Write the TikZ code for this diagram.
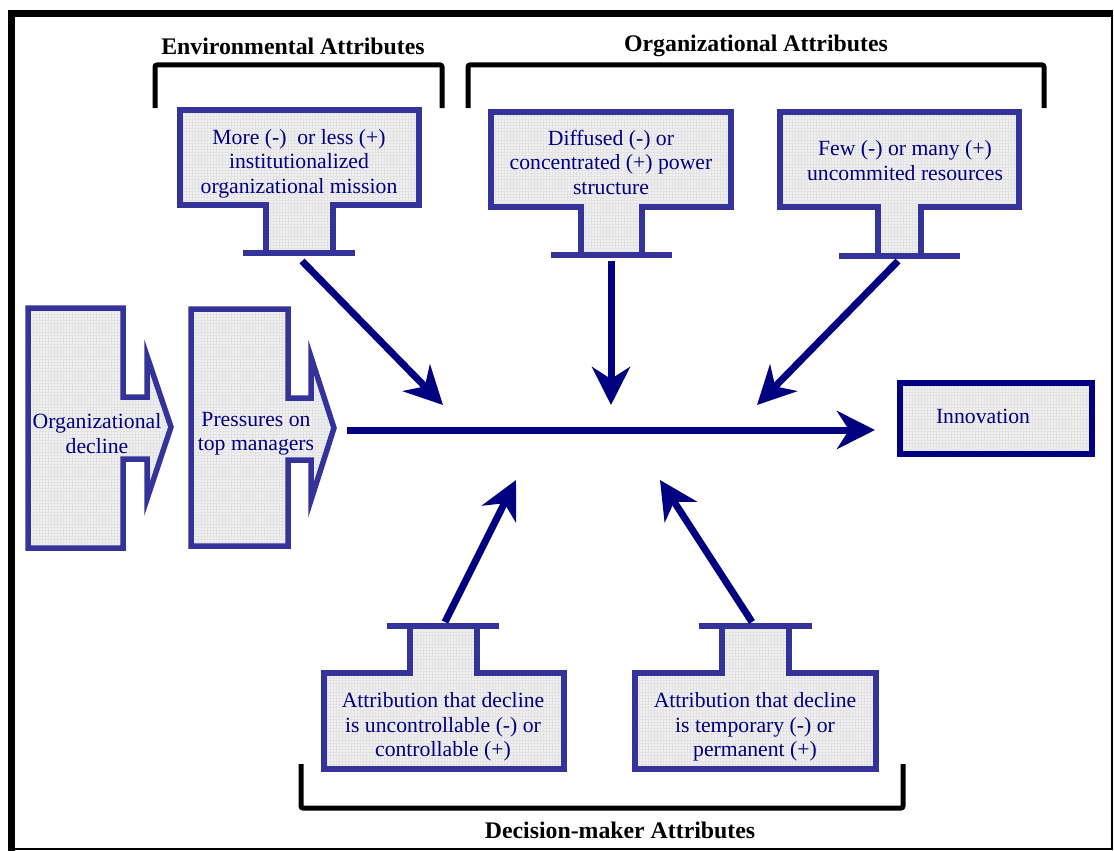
\documentclass[tikz,border=0pt]{standalone}
\usepackage{fontspec}
\setmainfont{Liberation Serif}
\usetikzlibrary{arrows.meta,patterns}
\definecolor{bord}{RGB}{51,51,153}
\definecolor{navyc}{RGB}{0,0,128}
\definecolor{boxfill}{RGB}{240,240,242}
\tikzset{
  txt/.style={text=navyc, font=\fontsize{21.7}{24.5}\selectfont, align=center, inner sep=0pt},
  ttl/.style={text=black, font=\fontsize{23.8}{26}\selectfont\bfseries, inner sep=0pt},
  shapebox/.style={preaction={fill=boxfill}, pattern=grid, pattern color=black!11, draw=bord, line width=5.5pt},
  crossbar/.style={draw=bord, line width=5.5pt},
  bracket/.style={draw=black, line width=5pt, rounded corners=2pt},
  flow/.style={draw=navyc, line width=7pt, -{Stealth[length=38pt,width=38pt,inset=12pt]}},
}
\begin{document}
\begin{tikzpicture}[x=1pt,y=-1pt]
\useasboundingbox (0,0) rectangle (1114,851);
% frame
\draw[line width=1.8pt] (11,849) -- (1112,849) -- (1112,13);
\draw[line width=7pt] (11,851) -- (11,13.5) -- (1113,13.5);
% brackets
\draw[bracket] (155,108) -- (155,65) -- (442,65) -- (442,108);
\draw[bracket] (468,108) -- (468,65) -- (1044,65) -- (1044,108);
\draw[bracket] (301,764) -- (301,808) -- (903,808) -- (903,764);
\node[ttl] (tenv) at (293,46) {Environmental Attributes};
\node[ttl] (torg) at (756,46) {Organizational Attributes};
\node[ttl] (tdec) at (620,830) {Decision-maker Attributes};
% top T boxes
\draw[shapebox] (180,110) -- (419,110) -- (419,205) -- (333,205) -- (333,253) -- (266,253) -- (266,205) -- (180,205) -- cycle;
\draw[crossbar] (243,253) -- (355,253);
\draw[shapebox] (491,112) -- (731,112) -- (731,207) -- (642,207) -- (642,255) -- (581,255) -- (581,207) -- (491,207) -- cycle;
\draw[crossbar] (551,255) -- (672,255);
\draw[shapebox] (780,112) -- (1019,112) -- (1019,207) -- (921,207) -- (921,256) -- (878,256) -- (878,207) -- (780,207) -- cycle;
\draw[crossbar] (839,256) -- (960,256);
% bottom T boxes
\draw[shapebox] (324,673) -- (410,673) -- (410,626) -- (477,626) -- (477,673) -- (564,673) -- (564,769) -- (324,769) -- cycle;
\draw[crossbar] (387,626) -- (499,626);
\draw[shapebox] (635,673) -- (722,673) -- (722,626) -- (789,626) -- (789,673) -- (876,673) -- (876,769) -- (635,769) -- cycle;
\draw[crossbar] (699,626) -- (812,626);
% block arrows
\draw[shapebox] (28,308) -- (123,308) -- (123,397) -- (147,397) -- (147,356) -- (171,427) -- (147,499) -- (147,459) -- (123,459) -- (123,548) -- (28,548) -- cycle;
\draw[shapebox] (191,309) -- (288,309) -- (288,398) -- (311,398) -- (311,357) -- (334,428) -- (311,500) -- (311,460) -- (288,460) -- (288,546) -- (191,546) -- cycle;
% innovation box
\draw[preaction={fill=boxfill}, pattern=grid, pattern color=black!11, draw=navyc, line width=6pt] (900,383) rectangle (1092,454);
% texts
\node[txt] (env1) at (299,163.5) {More (-)\ \ or less (+)\\institutionalized\\organizational mission};
\node[txt] (org1) at (611,162) {Diffused (-) or\\concentrated (+) power\\structure};
\node[txt] (org2) at (905,160.5) {Few (-) or many (+)\\uncommited resources};
\node[txt] (dm1) at (443,727) {Attribution that decline\\is uncontrollable (-) or\\controllable (+)};
\node[txt] (dm2) at (755,727) {Attribution that decline\\is temporary (-) or\\permanent (+)};
\node[txt] (decl) at (97,433.5) {Organizational\\decline};
\node[txt] (press) at (256,433.5) {Pressures on\\top managers};
\node[txt] (innov) at (983,416) {Innovation};
% connector coordinates
\coordinate (s1) at (302,261);
\coordinate (e1) at (443,405);
\coordinate (s2) at (611,261);
\coordinate (e2) at (611,405);
\coordinate (s3) at (898,261);
\coordinate (e3) at (757,405);
\coordinate (s4) at (445,622);
\coordinate (e4) at (516,480);
\coordinate (s5) at (752,622);
\coordinate (e5) at (660,480);
\coordinate (ms) at (347,430);
\coordinate (me) at (875,430);
\draw[flow] (s1) -- (e1);
\draw[flow] (s2) -- (e2);
\draw[flow] (s3) -- (e3);
\draw[flow] (s4) -- (e4);
\draw[flow] (s5) -- (e5);
\draw[flow] (ms) -- (me);
\end{tikzpicture}
\end{document}
